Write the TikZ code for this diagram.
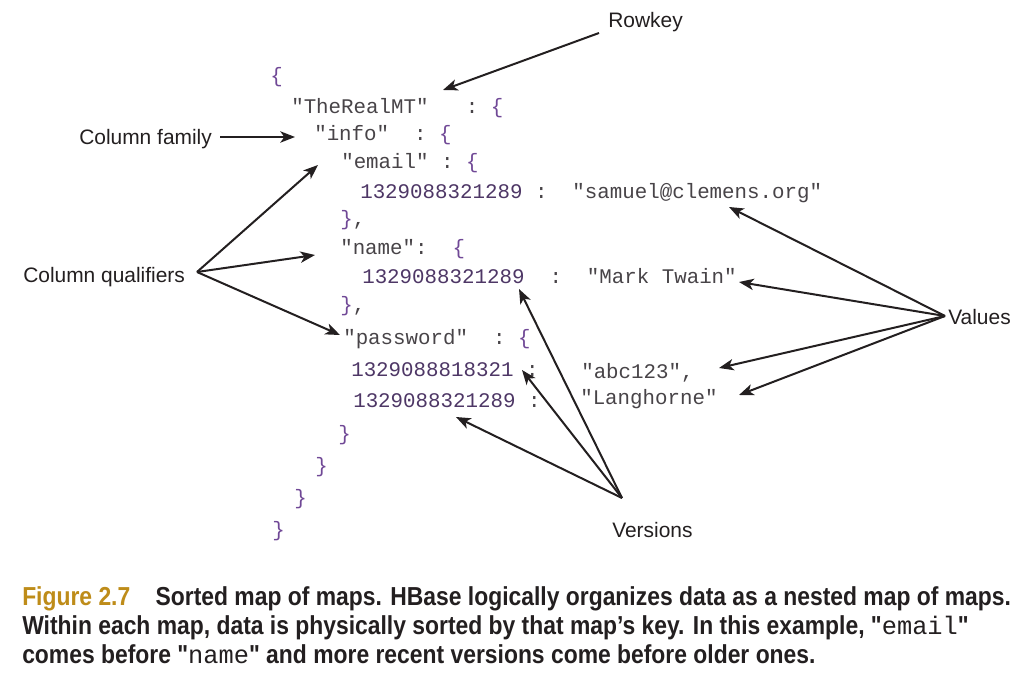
\documentclass[tikz,border=0pt]{standalone}
\usepackage{fontspec}
\setmainfont{Liberation Sans}
\newfontfamily\codefont{Liberation Mono}
\newfontfamily\capfont[FakeStretch=0.88]{Liberation Sans}
\usetikzlibrary{arrows.meta,positioning}
\definecolor{ink}{RGB}{35,31,32}
\definecolor{codetext}{RGB}{72,68,72}
\definecolor{codenum}{RGB}{78,55,102}
\definecolor{codebrace}{RGB}{112,72,150}
\definecolor{figgold}{RGB}{190,140,25}
\newcommand{\lb}{\textcolor{codebrace}{\{}}
\newcommand{\rb}{\textcolor{codebrace}{\}}}
\newcommand{\vnum}[1]{\textcolor{codenum}{#1}}
\newcommand{\capcode}[1]{{\codefont\mdseries\fontsize{19}{22}\selectfont #1}}

\begin{document}
\begin{tikzpicture}[
            x=0.75pt, y=-0.75pt,
            code/.style={anchor=base west, inner sep=0pt, font=\codefont\fontsize{15.6}{18}\selectfont, text=codetext},
            label/.style={anchor=base west, inner sep=0pt, font=\fontsize{15.7}{19}\selectfont, text=ink},
            caption/.style={anchor=base west, inner sep=0pt, font=\capfont\bfseries\fontsize{19.5}{22}\selectfont, text=ink},
            arrow/.style={-{Stealth[length=11pt,width=8.5pt,inset=3pt]}, line width=1.5pt, draw=ink}
        ]
        \fill[white] (0,0) rectangle (1030,681);
        \useasboundingbox (0,0) rectangle (1030,681);
        
        % the nested map
        \node[code] (open) at (270,83) {\lb};
        \node[code] (rowkey) at (291,114) {"TheRealMT"~~~:~\lb};
        \node[code] (info) at (314,141) {"info"~~:~\lb};
        \node[code] (email) at (341,168) {"email"~:~\lb};
        \node[code] (emailval) at (360,198) {\vnum{1329088321289}~:~~"samuel@clemens.org"};
        \node[code] (emailend) at (340,225) {\rb,};
        \node[code] (name) at (340,254) {"name":~~\lb};
        \node[code] (nameval) at (362,283) {\vnum{1329088321289}~~:~~"Mark Twain"};
        \node[code] (nameend) at (340,311) {\rb,};
        \node[code] (password) at (343,344) {"password"~~:~\lb};
        \node[code] (pwnew) at (351,376) {\vnum{1329088818321}~:};
        \node[code] (pwold) at (353,407) {\vnum{1329088321289}~:};
        \node[code] (pwnewval) at (581,378) {"abc123",};
        \node[code] (pwoldval) at (580,404) {"Langhorne"};
        \node[code] (close1) at (338,440) {\rb};
        \node[code] (close2) at (315,472) {\rb};
        \node[code] (close3) at (294,504) {\rb};
        \node[code] (close4) at (272,536) {\rb};
        
        % labels
        \node[label] (rowkeylbl) at (608,28) {Rowkey};
        \node[label] (familylbl) at (79,145) {Column family};
        \node[label] (qualifierlbl) at (23,282) {Column qualifiers};
        \node[label] (valueslbl) at (948,324) {Values};
        \node[label] (versionslbl) at (612,537) {Versions};
        
        % arrow ends
        \coordinate (rowkeyhub) at (599,33);
        \coordinate (familyhub) at (220,137);
        \coordinate (qualifierhub) at (197,272);
        \coordinate (valueshub) at (945,316);
        \coordinate (versionshub) at (622,498);
        
        \coordinate (to-rowkey) at (443,90);
        \coordinate (to-info) at (295,137);
        \coordinate (to-email) at (318,165);
        \coordinate (to-name) at (315,255);
        \coordinate (to-password) at (340,335);
        \coordinate (to-emailval) at (729,207);
        \coordinate (to-nameval) at (739,282);
        \coordinate (to-pwnewval) at (719,368);
        \coordinate (to-pwoldval) at (739,395);
        \coordinate (to-namever) at (519,289);
        \coordinate (to-pwnew) at (522,370);
        \coordinate (to-pwold) at (456,417);
        
        \draw[arrow] (rowkeyhub) -- (to-rowkey);
        \draw[arrow] (familyhub) -- (to-info);
        \draw[arrow] (qualifierhub) -- (to-email);
        \draw[arrow] (qualifierhub) -- (to-name);
        \draw[arrow] (qualifierhub) -- (to-password);
        \draw[arrow] (valueshub) -- (to-emailval);
        \draw[arrow] (valueshub) -- (to-nameval);
        \draw[arrow] (valueshub) -- (to-pwnewval);
        \draw[arrow] (valueshub) -- (to-pwoldval);
        \draw[arrow] (versionshub) -- (to-namever);
        \draw[arrow] (versionshub) -- (to-pwnew);
        \draw[arrow] (versionshub) -- (to-pwold);
        
        % caption
        \node[caption] (cap1) at (22,605) {\textcolor{figgold}{Figure 2.7}\hspace{19pt}Sorted map of maps. HBase logically organizes data as a nested map of maps.};
        \node[caption] (cap2) at (22,634) {Within each map, data is physically sorted by that map’s key. In this example, "\capcode{email}"};
        \node[caption] (cap3) at (22,663) {comes before "\capcode{name}" and more recent versions come before older ones.};
        
        \end{tikzpicture}
\end{document}
